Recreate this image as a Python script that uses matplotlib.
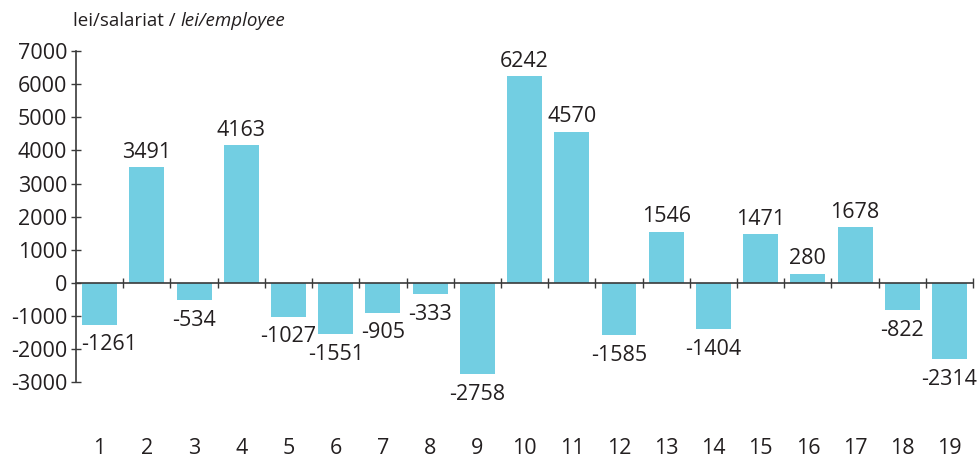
import numpy as np
import matplotlib.pyplot as plt
from matplotlib.transforms import blended_transform_factory

plt.rcParams['font.family'] = ['Open Sans', 'DejaVu Sans']

# data
categories = [str(i) for i in range(1, 20)]
values = [-1261, 3491, -534, 4163, -1027, -1551, -905, -333, -2758, 6242,
          4570, -1585, 1546, -1404, 1471, 280, 1678, -822, -2314]
y_ticks = [-3000, -2000, -1000, 0, 1000, 2000, 3000, 4000, 5000, 6000, 7000]

bar_color = '#72CEE2'
axis_color = '#3a3a3a'
text_color = '#231f20'
fs = 15.5

fig = plt.figure(figsize=(9.8, 4.57), dpi=100)
ax = fig.add_axes([0.0776, 0.164, 0.9154, 0.724])

x = np.arange(1, len(values) + 1)
ax.bar(x, values, width=0.74, color=bar_color, zorder=1)

# value labels
for xi, v in zip(x, values):
    if v >= 0:
        ax.annotate(str(v), (xi, v), xytext=(0, 3), textcoords='offset points',
                    ha='center', va='bottom', fontsize=fs, color=text_color)
    else:
        dx = 7 if xi == 1 else 0
        ax.annotate(str(v), (xi, v), xytext=(dx, -7), textcoords='offset points',
                    ha='center', va='top', fontsize=fs, color=text_color)

ax.set_xlim(0.5, 19.5)
ax.set_ylim(-3000, 7000)
ax.set_yticks(y_ticks)
ax.set_yticklabels([str(t) for t in y_ticks], fontsize=fs, color=text_color)

ax.set_xticks(np.arange(1.5, 20.0, 1.0))
ax.set_xticklabels([])

ax.spines['top'].set_visible(False)
ax.spines['right'].set_visible(False)
ax.spines['bottom'].set_position(('data', 0))
for s in ['left', 'bottom']:
    ax.spines[s].set_color(axis_color)
    ax.spines[s].set_linewidth(1.2)
    ax.spines[s].set_zorder(3)
ax.tick_params(axis='y', direction='inout', length=7, width=1, color=axis_color, pad=3)
ax.tick_params(axis='x', direction='inout', length=7, width=1, color=axis_color)

# category labels below the plot
trans = blended_transform_factory(ax.transData, ax.transAxes)
for xi, c in zip(x, categories):
    ax.text(xi, -0.2, c, transform=trans, ha='center', va='center',
            fontsize=fs, color=text_color)

# unit label: normal + italic
t1 = fig.text(0.0745, 0.955, 'lei/salariat / ', fontsize=13.5, color=text_color,
              ha='left', va='center')
fig.canvas.draw()
bb = t1.get_window_extent()
x2 = bb.x1 / fig.bbox.width
fig.text(x2, 0.955, 'lei/employee', fontsize=13.5, color=text_color,
         style='italic', ha='left', va='center')

fig.savefig('out.png', dpi=100)
